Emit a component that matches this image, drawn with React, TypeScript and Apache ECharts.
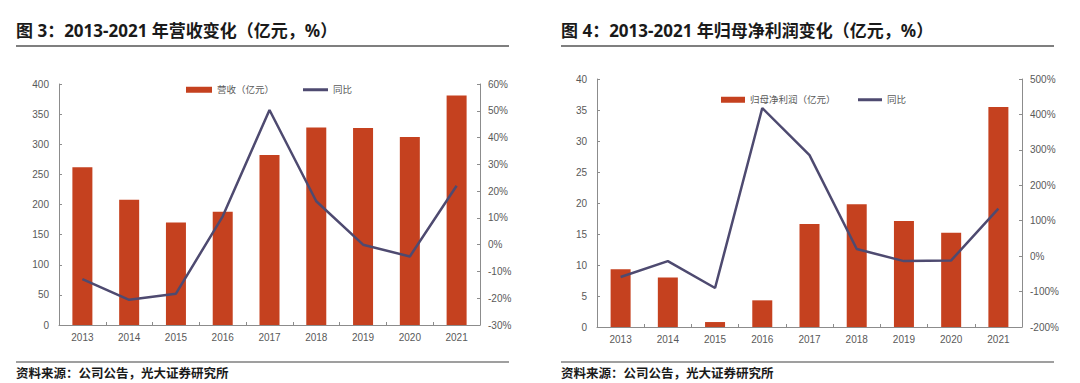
import React, { useEffect, useRef } from "react";
import * as echarts from "echarts";

const years = ["2013", "2014", "2015", "2016", "2017", "2018", "2019", "2020", "2021"];
const revenue = [262, 208, 170, 188, 282, 328, 327, 312, 381];
const revenueYoY = [-12.9, -20.6, -18.3, 10.6, 50.3, 16.2, 0.0, -4.4, 22.0];
const profit = [9.3, 8.0, 0.8, 4.3, 16.6, 19.8, 17.1, 15.2, 35.5];
const profitYoY = [-59, -14, -90, 418, 285, 20, -14, -12, 134];

const title1 = "图 3：2013-2021 年营收变化（亿元，%）";
const title2 = "图 4：2013-2021 年归母净利润变化（亿元，%）";
const source = "资料来源：公司公告，光大证券研究所";

const BAR = "#C5411F";
const LINE = "#4E4A70";
const AXIS = "#8C8C8C";
const LABEL = "#595959";
const FONT = "Liberation Sans, Arial, sans-serif";
const CJK = "Noto Sans, Noto Sans CJK SC, sans-serif";

export default function App() {
  const ref = useRef<HTMLDivElement>(null);
  useEffect(() => {
    if (!ref.current) return;
    const chart = echarts.init(ref.current, undefined, { renderer: "svg" });
    const axisLabel = { color: LABEL, fontSize: 10, fontFamily: FONT };
    const axisLine = { show: true, lineStyle: { color: AXIS, width: 1 } };
    const xAxisBase = {
      type: "category" as const,
      data: years,
      axisLine,
      axisTick: { show: true, inside: true, length: 3, lineStyle: { color: AXIS } },
      axisLabel: { ...axisLabel, margin: 7 },
    };
    const yBase = (min: number, max: number, interval: number, pos: "left" | "right", grid: number, fmt?: string) => ({
      type: "value" as const,
      gridIndex: grid,
      position: pos,
      min,
      max,
      interval,
      splitLine: { show: false },
      axisLine,
      axisTick: { show: true, inside: true, length: 3, lineStyle: { color: AXIS } },
      axisLabel: { ...axisLabel, margin: pos === "left" ? 10 : 8, formatter: fmt },
    });
    const legendText = { color: LABEL, fontSize: 9.5, fontFamily: CJK };
    const legendBase = { padding: 0, icon: "rect", textStyle: legendText };
    const titleStyle = { fontSize: 17, fontWeight: "bold", fill: "#1a1a1a", fontFamily: CJK };
    const srcStyle = { fontSize: 12.5, fontWeight: "bold", fill: "#1a1a1a", fontFamily: CJK };
    chart.setOption({
      animation: false,
      grid: [
        { left: 59, right: 600, top: 84, bottom: 58 },
        { left: 597, right: 58, top: 79, bottom: 56 },
      ],
      xAxis: [
        { ...xAxisBase, gridIndex: 0 },
        { ...xAxisBase, gridIndex: 1 },
      ],
      yAxis: [
        yBase(0, 400, 50, "left", 0),
        yBase(-30, 60, 10, "right", 0, "{value}%"),
        yBase(0, 40, 5, "left", 1),
        yBase(-200, 500, 100, "right", 1, "{value}%"),
      ],
      legend: [
        { ...legendBase, data: ["营收（亿元）"], left: 186, top: 85, itemWidth: 26, itemHeight: 6, itemGap: 2 },
        { ...legendBase, data: ["同比"], left: 303, top: 85, itemWidth: 25, itemHeight: 3 },
        { ...legendBase, data: ["归母净利润（亿元）"], left: 721, top: 95, itemWidth: 24, itemHeight: 6 },
        { ...legendBase, data: ["同比"], left: 858, top: 95, itemWidth: 24, itemHeight: 3 },
      ],
      series: [
        { name: "营收（亿元）", type: "bar", xAxisIndex: 0, yAxisIndex: 0, data: revenue, barWidth: 20, itemStyle: { color: BAR } },
        { name: "同比", type: "line", xAxisIndex: 0, yAxisIndex: 1, data: revenueYoY, showSymbol: false, lineStyle: { color: LINE, width: 2.5 }, itemStyle: { color: LINE } },
        { name: "归母净利润（亿元）", type: "bar", xAxisIndex: 1, yAxisIndex: 2, data: profit, barWidth: 20, itemStyle: { color: BAR } },
        { name: "同比", type: "line", xAxisIndex: 1, yAxisIndex: 3, data: profitYoY, showSymbol: false, lineStyle: { color: LINE, width: 2.5 }, itemStyle: { color: LINE } },
      ],
      graphic: [
        { type: "text", x: 16, y: 30, style: { text: title1, ...titleStyle, textVerticalAlign: "middle" } },
        { type: "text", x: 561, y: 30, style: { text: title2, ...titleStyle, textVerticalAlign: "middle" } },
        { type: "line", shape: { x1: 16, y1: 46, x2: 509, y2: 46 }, style: { stroke: "#7f7f7f", lineWidth: 2 } },
        { type: "line", shape: { x1: 561, y1: 46, x2: 1054, y2: 46 }, style: { stroke: "#7f7f7f", lineWidth: 2 } },
        { type: "line", shape: { x1: 16, y1: 362, x2: 509, y2: 362 }, style: { stroke: "#7f7f7f", lineWidth: 1.5 } },
        { type: "line", shape: { x1: 561, y1: 362, x2: 1054, y2: 362 }, style: { stroke: "#7f7f7f", lineWidth: 1.5 } },
        { type: "text", x: 16, y: 373, style: { text: source, ...srcStyle, textVerticalAlign: "middle" } },
        { type: "text", x: 561, y: 373, style: { text: source, ...srcStyle, textVerticalAlign: "middle" } },
      ],
    });
    return () => chart.dispose();
  }, []);
  return (
    <div
      ref={ref}
      style={{ position: "fixed", left: 0, top: 0, width: 1080, height: 383, background: "#fff" }}
    />
  );
}
